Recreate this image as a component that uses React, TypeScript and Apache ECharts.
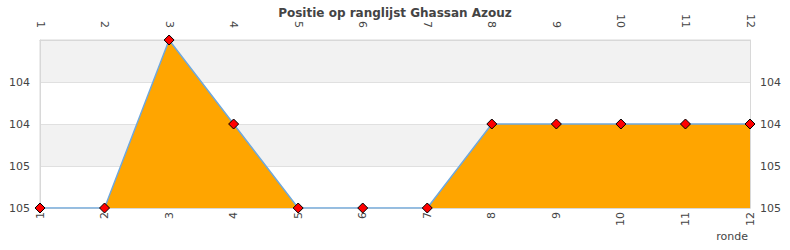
import React, { useEffect, useRef } from "react";
import * as echarts from "echarts";

const rounds = ["1", "2", "3", "4", "5", "6", "7", "8", "9", "10", "11", "12"];
const positions = [105, 105, 103, 104, 105, 105, 105, 104, 104, 104, 104, 104];
const chartTitle = "Positie op ranglijst Ghassan Azouz";
const xName = "ronde";

export default function App() {
  const ref = useRef<HTMLDivElement>(null);
  useEffect(() => {
    const chart = echarts.init(ref.current!, undefined, { renderer: "svg" });
    const labelFmt = (v: number) => (v <= 103 ? "" : String(Math.round(v)));
    const yCommon = {
      type: "value" as const,
      inverse: true,
      min: 103,
      max: 105,
      interval: 0.5,
      axisLine: { show: true, lineStyle: { color: "#d8d8d8" } },
      axisTick: { show: false },
      axisLabel: { color: "#444", fontSize: 11, fontFamily: "DejaVu Sans", formatter: labelFmt, margin: 10 },
    };
    const xCommon = {
      type: "category" as const,
      data: rounds,
      boundaryGap: false,
      axisLine: { show: true, lineStyle: { color: "#d8d8d8" } },
      axisTick: { show: false },
      axisLabel: { color: "#444", fontSize: 11, fontFamily: "DejaVu Sans", rotate: 90, interval: 0 },
    };
    chart.setOption({
      animation: false,
      title: {
        text: chartTitle,
        left: "center",
        top: 2,
        textStyle: { fontSize: 12, fontWeight: "bold", color: "#444", fontFamily: "DejaVu Sans" },
      },
      grid: { left: 40, right: 40, top: 40, bottom: 42, show: true, borderColor: "#d8d8d8", borderWidth: 1, backgroundColor: "transparent" },
      xAxis: [
        { ...xCommon, position: "bottom", axisLabel: { ...xCommon.axisLabel, margin: 4 } },
        { ...xCommon, position: "top", axisLabel: { ...xCommon.axisLabel, margin: 12 } },
      ],
      yAxis: [
        {
          ...yCommon,
          position: "left",
          splitLine: { show: true, lineStyle: { color: "#e0e0e0" } },
          splitArea: { show: true, areaStyle: { color: ["#f2f2f2", "#ffffff"] } },
        },
        { ...yCommon, position: "right", splitLine: { show: false } },
      ],
      graphic: [
        {
          type: "text",
          right: 42,
          top: 231,
          style: { text: xName, fill: "#444", font: "11px DejaVu Sans" },
        },
      ],
      series: [
        {
          type: "line",
          data: positions,
          xAxisIndex: 0,
          yAxisIndex: 0,
          lineStyle: { color: "#6fa8dc", width: 1.5 },
          areaStyle: { color: "#ffa500", opacity: 1, origin: "end" },
          symbol: "diamond",
          symbolSize: 10,
          itemStyle: { color: "#ff0000", borderColor: "#000", borderWidth: 1 },
          z: 3,
        },
      ],
    });
    return () => chart.dispose();
  }, []);
  return <div ref={ref} style={{ width: 790, height: 250, position: "absolute", left: 0, top: 0 }} />;
}
